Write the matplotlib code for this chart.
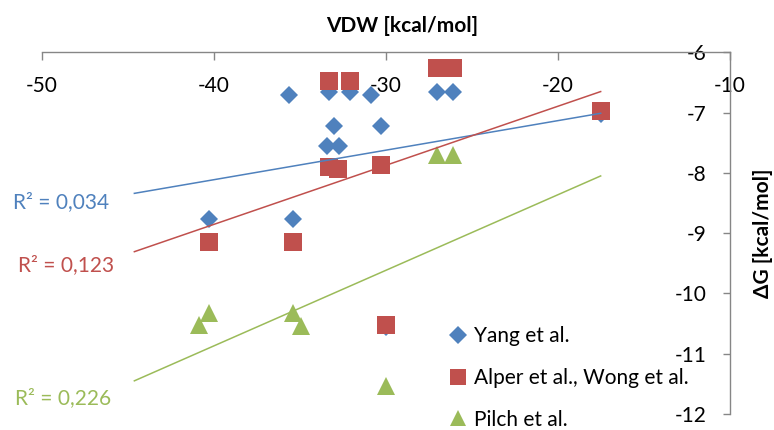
import matplotlib
matplotlib.use("Agg")
import matplotlib.pyplot as plt
import numpy as np
from matplotlib.lines import Line2D

plt.rcParams['font.family'] = ['Lato', 'DejaVu Sans']

# ---- data ----
yang_x = [-35.64, -33.31, -32.08, -30.87, -33.02, -30.31, -33.41, -32.73,
          -27.05, -26.09, -17.52, -40.29, -35.39, -30.0]
yang_y = [-6.70, -6.65, -6.65, -6.70, -7.22, -7.22, -7.55, -7.55,
          -6.65, -6.65, -7.02, -8.77, -8.77, -10.55]

alper_x = [-33.31, -32.08, -33.31, -32.77, -30.31, -27.05, -26.09, -17.52,
           -40.29, -35.39, -30.0]
alper_y = [-6.47, -6.47, -7.90, -7.94, -7.87, -6.26, -6.26, -6.97,
           -9.14, -9.14, -10.52]

pilch_x = [-27.05, -26.09, -40.29, -40.85, -35.39, -34.96, -30.0]
pilch_y = [-7.70, -7.70, -10.32, -10.52, -10.32, -10.54, -11.53]

series_names = ["Yang et al.", "Alper et al., Wong et al.", "Pilch et al."]
series_colors = ["#4F81BD", "#C0504D", "#9BBB59"]

# linear trendlines (slope, intercept) and their x extent
trend_slopes = [0.049, 0.098, 0.1254]
trend_intercepts = [-6.152, -4.933, -5.853]
trend_x_range = [-44.63, -17.52]
r2_labels = ["R\u00b2 = 0,034", "R\u00b2 = 0,123", "R\u00b2 = 0,226"]

x_ticks = [-50, -40, -30, -20, -10]
y_ticks = [-12, -11, -10, -9, -8, -7, -6]

# ---- figure ----
W, H = 774, 430
fig = plt.figure(figsize=(W / 100, H / 100), dpi=100)
ax = fig.add_axes([42 / W, 16 / H, 688 / W, 361.6 / H])
ax.set_xlim(-50, -10)
ax.set_ylim(-12, -6)

axis_gray = "#868686"
for s in ["left", "bottom"]:
    ax.spines[s].set_visible(False)
for s in ["top", "right"]:
    ax.spines[s].set_color(axis_gray)
    ax.spines[s].set_linewidth(1.0)

ax.xaxis.tick_top()
ax.yaxis.tick_right()
ax.set_xticks(x_ticks)
ax.set_yticks(y_ticks)
ax.set_xticklabels([str(v) for v in x_ticks])
ax.set_yticklabels([str(v) for v in y_ticks])
ax.tick_params(axis='x', which='both', direction='in', length=6, width=1.0,
               color=axis_gray, labelsize=15, pad=-17, labelcolor='black')
ax.tick_params(axis='y', which='both', direction='in', length=5, width=1.0,
               color=axis_gray, labelsize=15, pad=-17, labelcolor='black')
for lab in ax.get_xticklabels():
    lab.set_verticalalignment('top')
for lab in ax.get_yticklabels():
    lab.set_horizontalalignment('right')

ax.set_xlabel("VDW [kcal/mol]", fontsize=15, fontweight='bold')
ax.xaxis.set_label_position('top')
ax.xaxis.set_label_coords(0.523, 1.072)
ax.xaxis.label.set_verticalalignment('center')

ax.set_ylabel("\u0394G [kcal/mol]", fontsize=15, fontweight='bold', rotation=90)
ax.yaxis.set_label_position('right')
ax.yaxis.set_label_coords(1.048, 0.5)
ax.yaxis.label.set_verticalalignment('center')

# ---- markers ----
ax.plot(yang_x, yang_y, linestyle='none', marker='D', markersize=9.2,
        color=series_colors[0], markeredgewidth=0, clip_on=False, zorder=3)
ax.plot(alper_x, alper_y, linestyle='none', marker='s', markersize=13,
        color=series_colors[1], markeredgewidth=0, clip_on=False, zorder=4)
ax.plot(pilch_x, pilch_y, linestyle='none', marker='^', markersize=13,
        color=series_colors[2], markeredgewidth=0, clip_on=False, zorder=5)

# ---- trendlines ----
tx = np.array(trend_x_range)
for m, b, c in zip(trend_slopes, trend_intercepts, series_colors):
    ax.plot(tx, m * tx + b, color=c, linewidth=1.1, zorder=6, clip_on=False)

# R² labels
r2_pos = [(-48.9, -8.48), (-48.6, -9.53), (-48.75, -11.73)]
for (px, py), t, c in zip(r2_pos, r2_labels, series_colors):
    ax.text(px, py, t, color=c, fontsize=15, ha='center', va='center')

# ---- legend ----
handles = [
    Line2D([], [], linestyle='none', marker='D', markersize=9, color=series_colors[0], markeredgewidth=0),
    Line2D([], [], linestyle='none', marker='s', markersize=12, color=series_colors[1], markeredgewidth=0),
    Line2D([], [], linestyle='none', marker='^', markersize=12, color=series_colors[2], markeredgewidth=0),
]
leg = ax.legend(handles, series_names, loc='upper left',
                bbox_to_anchor=(448 / W, 1 - 326 / H), bbox_transform=fig.transFigure,
                frameon=False, fontsize=15, handlelength=1.0, handletextpad=0.25,
                labelspacing=1.05, borderaxespad=0, borderpad=0)

fig.savefig("out.png", dpi=100)
